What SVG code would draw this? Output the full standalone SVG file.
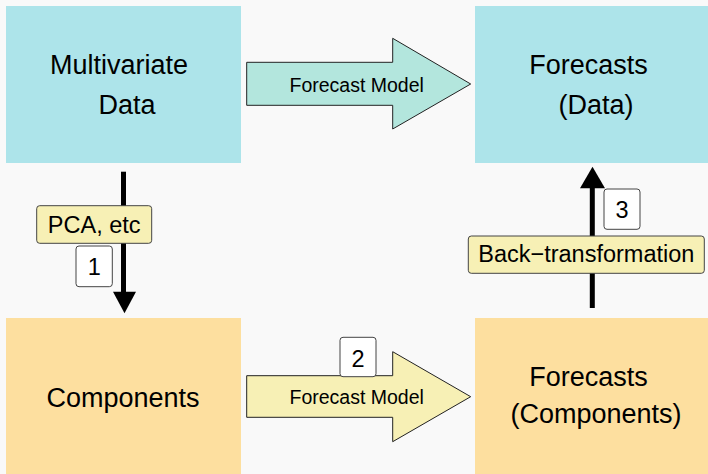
<svg xmlns="http://www.w3.org/2000/svg" width="708" height="474" viewBox="0 0 708 474">
<defs>
<style>
.t{font-family:"Liberation Sans",Arial,sans-serif;fill:#000}
.big{font-size:27px}
.mid{font-size:23.5px}
.sm{font-size:19.5px}
.cy{fill:#ade4ea}
.or{fill:#fddf9f}
.lab{fill:#f7f0b5;stroke:#444;stroke-width:1}
.num{fill:#ffffff;stroke:#444;stroke-width:1}
.shaft{stroke:#000;stroke-width:5;fill:none}
.head{fill:#000}
</style>
</defs>
<rect width="708" height="474" fill="#f9f9f9"/>
<g id="multivariate-data">
<rect class="cy" x="6" y="6" width="235" height="157"/>
<text class="t big" x="119" y="73.5" text-anchor="middle">Multivariate</text>
<text class="t big" x="127" y="113.5" text-anchor="middle">Data</text>
</g>
<g id="forecasts-data">
<rect class="cy" x="475" y="6" width="233" height="157"/>
<text class="t big" x="588.5" y="73.5" text-anchor="middle">Forecasts</text>
<text class="t big" x="596" y="113.5" text-anchor="middle">(Data)</text>
</g>
<g id="components">
<rect class="or" x="6" y="318" width="235" height="156"/>
<text class="t big" x="123" y="406.5" text-anchor="middle">Components</text>
</g>
<g id="forecasts-components">
<rect class="or" x="475" y="318" width="233" height="156"/>
<text class="t big" x="588.5" y="386" text-anchor="middle">Forecasts</text>
<text class="t big" x="596" y="423" text-anchor="middle">(Components)</text>
</g>
<g id="connectors">
<g id="top-forecast-model">
<polygon points="246.7,62.3 392.7,62.3 392.7,38.3 470.7,84 392.7,129 392.7,105.3 246.7,105.3" fill="#b3e6dd" stroke="#222" stroke-width="1"/>
<text class="t sm" x="356.7" y="91.7" text-anchor="middle">Forecast Model</text>
</g>
<g id="bottom-forecast-model">
<polygon points="246.7,375.7 392.7,375.7 392.7,351.7 470.7,396.7 392.7,441.7 392.7,417.3 246.7,417.3" fill="#f7f0b5" stroke="#222" stroke-width="1"/>
<text class="t sm" x="356.7" y="404" text-anchor="middle">Forecast Model</text>
<rect class="num" x="340" y="337.3" width="36" height="39.4" rx="3"/>
<text class="t mid" x="358" y="366.7" text-anchor="middle">2</text>
</g>
<g id="pca-arrow">
<line class="shaft" x1="123.5" y1="171.7" x2="123.5" y2="293"/>
<polygon class="head" points="113,291.7 136,291.7 124.5,313.3"/>
<rect class="lab" x="36.7" y="205.7" width="115" height="37.6" rx="3"/>
<text class="t mid" x="94.2" y="233.3" text-anchor="middle">PCA, etc</text>
<rect class="num" x="76" y="246" width="36.3" height="40.7" rx="3"/>
<text class="t mid" x="94.2" y="275" text-anchor="middle">1</text>
</g>
<g id="back-transformation-arrow">
<line class="shaft" x1="592.3" y1="308" x2="592.3" y2="187"/>
<polygon class="head" points="580,188.3 605,188.3 592.5,166.7"/>
<rect class="num" x="604" y="189" width="36" height="40.3" rx="3"/>
<text class="t mid" x="622" y="218.3" text-anchor="middle">3</text>
<rect class="lab" x="468.3" y="236" width="236" height="37.3" rx="3"/>
<text class="t mid" x="586.3" y="261.7" text-anchor="middle">Back−transformation</text>
</g>
</g>
</svg>
